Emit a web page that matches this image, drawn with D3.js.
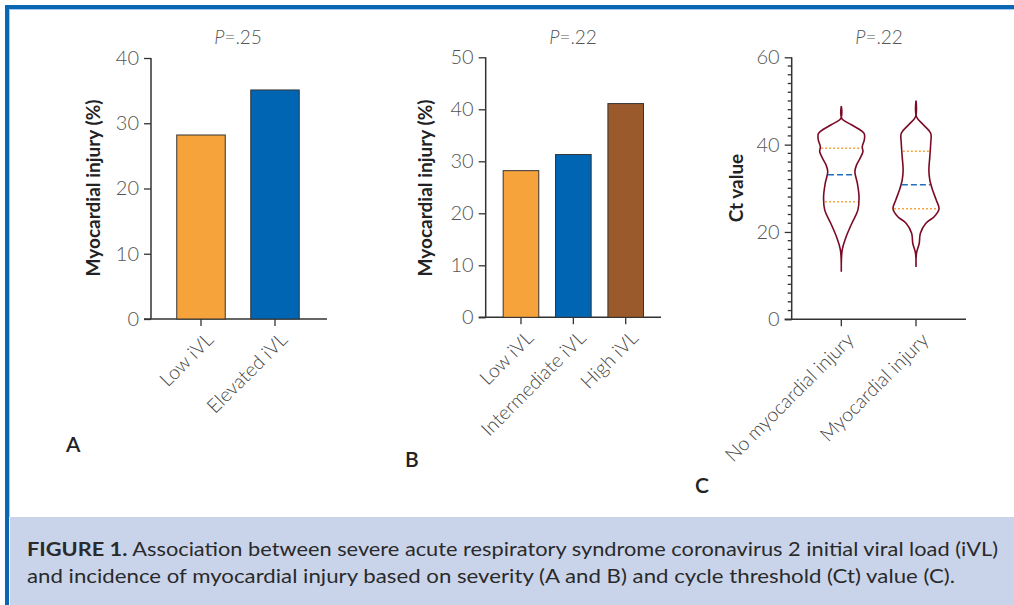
<!DOCTYPE html>
<html lang="en">
<head>
  <meta charset="UTF-8" />
  <title>Figure 1</title>
  <script src="https://d3js.org/d3.v7.min.js"></script>
  <style>
    html, body {
      margin: 0;
      padding: 0;
      background: white;
      overflow: hidden;
    }
    svg text {
      font-family: Lato, "Open Sans", sans-serif;
    }
  </style>
</head>
<body>
  <svg id="chart" width="1014" height="605"></svg>

  <script>
    // panel A
    const catsA = ["Low iVL", "Elevated iVL"];
    const valsA = [28.2, 35.1];
    const colorsA = ["#f6a33c", "#0066b3"];
    const ticksA = [0, 10, 20, 30, 40];

    // panel B
    const catsB = ["Low iVL", "Intermediate iVL", "High iVL"];
    const valsB = [28.2, 31.3, 41.1];
    const colorsB = ["#f6a33c", "#0066b3", "#9a5a2b"];
    const ticksB = [0, 10, 20, 30, 40, 50];

    // panel C - violins (Ct value, relative density)
    const catsC = ["No myocardial injury", "Myocardial injury"];
    const ticksC = [0, 20, 40, 60];
    const ctNo = [48.8, 46.0, 44.5, 42.6, 41.1, 39.5, 38.4, 36.9, 35.3, 33.8, 31.1, 28.1, 25.0, 22.0, 18.9, 15.9, 10.9];
    const densNo = [0, 0.02, 0.46, 0.99, 1.0, 0.91, 0.94, 0.82, 0.66, 0.59, 0.70, 0.77, 0.72, 0.46, 0.21, 0.04, 0];
    const ctInj = [50.1, 46.4, 44.5, 42.6, 40.3, 37.2, 34.2, 31.9, 29.6, 27.3, 25.3, 23.5, 22.0, 19.7, 17.4, 15.1, 12.0];
    const densInj = [0, 0.02, 0.33, 0.64, 0.64, 0.60, 0.56, 0.60, 0.72, 0.88, 1.0, 0.79, 0.43, 0.19, 0.14, 0.02, 0];
    const quartNo = [26.9, 33.1, 39.2];
    const quartInj = [25.3, 30.8, 38.5];

    const pLabels = [".25", ".22", ".22"];
    const panelLetters = ["A", "B", "C"];
    const captionBold = "FIGURE 1.";
    const captionLine1 = " Association between severe acute respiratory syndrome coronavirus 2 initial viral load (iVL)";
    const captionLine2 = "and incidence of myocardial injury based on severity (A and B) and cycle threshold (Ct) value (C).";

    const svg = d3.select("#chart");
    const axisColor = "#333";
    const tickColor = "#555";

    // frame and caption band
    svg.append("rect").attr("x", 10).attr("y", 517).attr("width", 1004).attr("height", 88).attr("fill", "#c9d4eb");
    svg.append("rect").attr("x", 5).attr("y", 5).attr("width", 1009).attr("height", 4).attr("fill", "#0a67b4");
    svg.append("rect").attr("x", 5).attr("y", 5).attr("width", 4).attr("height", 600).attr("fill", "#0a67b4");
    svg.append("rect").attr("x", 9).attr("y", 9).attr("width", 1005).attr("height", 1).attr("fill", "#a9c9ea");
    svg.append("rect").attr("x", 9).attr("y", 9).attr("width", 1).attr("height", 508).attr("fill", "#a9c9ea");

    function styleAxis(g) {
      g.selectAll("path.domain").remove();
      g.selectAll("line").attr("stroke", axisColor).attr("stroke-width", 1.3);
      g.selectAll("text").attr("fill", tickColor).style("font-size", "20px").style("font-weight", 300);
    }

    function drawFrame(cfg) {
      const g = svg.append("g");
      const y = cfg.y;
      const y0 = y.range()[0];

      const ya = g.append("g")
        .attr("transform", `translate(${cfg.axisX},0)`)
        .call(d3.axisLeft(y).tickValues(cfg.ticks).tickSize(7).tickSizeOuter(0).tickPadding(5));
      styleAxis(ya);

      if (cfg.minor) {
        g.append("g").selectAll("line")
          .data(d3.range(0, y.domain()[1] + 0.01, cfg.minor).filter(v => !cfg.ticks.includes(v)))
          .join("line")
          .attr("x1", cfg.axisX - 4).attr("x2", cfg.axisX)
          .attr("y1", d => y(d)).attr("y2", d => y(d))
          .attr("stroke", axisColor).attr("stroke-width", 1.3);
      }

      // axis lines
      g.append("line")
        .attr("x1", cfg.axisX).attr("x2", cfg.axisX)
        .attr("y1", y0).attr("y2", y.range()[1])
        .attr("stroke", axisColor).attr("stroke-width", 1.5);
      g.append("line")
        .attr("x1", cfg.axisX - 7).attr("x2", cfg.xEnd)
        .attr("y1", y0).attr("y2", y0)
        .attr("stroke", axisColor).attr("stroke-width", 1.5);

      // category ticks and rotated labels
      const cats = g.append("g").selectAll("g")
        .data(cfg.cats)
        .join("g")
        .attr("transform", d => `translate(${cfg.center(d)},${y0})`);
      cats.append("line").attr("y1", 0).attr("y2", 7).attr("stroke", axisColor).attr("stroke-width", 1.3);
      cats.append("text")
        .attr("transform", "translate(9,17) rotate(-45)")
        .attr("text-anchor", "end")
        .attr("dy", "0.35em")
        .attr("fill", "#444")
        .style("font-size", "19.5px")
        .style("font-weight", 300)
        .text(d => d);

      // P value
      const pt = g.append("text")
        .attr("x", cfg.pX).attr("y", 44)
        .attr("text-anchor", "middle")
        .attr("fill", tickColor)
        .style("font-size", "19px")
        .style("font-weight", 300);
      pt.append("tspan").style("font-style", "italic").text("P");
      pt.append("tspan").text("=" + cfg.p);

      // y title
      g.append("text")
        .attr("transform", `translate(${cfg.titleX},188) rotate(-90)`)
        .attr("text-anchor", "middle")
        .attr("fill", "#222")
        .style("font-size", "19px")
        .style("font-weight", 700)
        .text(cfg.title);

      // panel letter
      g.append("text")
        .attr("x", cfg.letterX).attr("y", cfg.letterY)
        .attr("fill", "#222")
        .style("font-size", "21px")
        .style("font-weight", 600)
        .text(cfg.letter);

      return g;
    }

    // ---------- A ----------
    const yA = d3.scaleLinear().domain([0, 40]).range([319, 58]);
    const xA = d3.scaleBand().domain(catsA).range([164, 312]).paddingInner(0.345).paddingOuter(0.1725);
    const gA = drawFrame({
      y: yA, ticks: ticksA, axisX: 151, xEnd: 327, cats: catsA,
      center: d => xA(d) + xA.bandwidth() / 2, pX: 238, p: pLabels[0],
      title: "Myocardial injury (%)", titleX: 100, letter: panelLetters[0], letterX: 66, letterY: 452
    });
    gA.append("g").selectAll("rect")
      .data(catsA)
      .join("rect")
      .attr("x", d => xA(d)).attr("width", xA.bandwidth())
      .attr("y", (d, i) => yA(valsA[i])).attr("height", (d, i) => yA(0) - yA(valsA[i]))
      .attr("fill", (d, i) => colorsA[i])
      .attr("stroke", "#333").attr("stroke-width", 1);

    // ---------- B ----------
    const yB = d3.scaleLinear().domain([0, 50]).range([317.3, 57.3]);
    const xB = d3.scaleBand().domain(catsB).range([494.8, 651.9]).paddingInner(0.32).paddingOuter(0.16);
    const gB = drawFrame({
      y: yB, ticks: ticksB, axisX: 485.7, xEnd: 661, cats: catsB,
      center: d => xB(d) + xB.bandwidth() / 2, pX: 573, p: pLabels[1],
      title: "Myocardial injury (%)", titleX: 432, letter: panelLetters[1], letterX: 405, letterY: 467
    });
    gB.append("g").selectAll("rect")
      .data(catsB)
      .join("rect")
      .attr("x", d => xB(d)).attr("width", xB.bandwidth())
      .attr("y", (d, i) => yB(valsB[i])).attr("height", (d, i) => yB(0) - yB(valsB[i]))
      .attr("fill", (d, i) => colorsB[i])
      .attr("stroke", "#333").attr("stroke-width", 1);

    // ---------- C ----------
    const yC = d3.scaleLinear().domain([0, 60]).range([319.3, 57.3]);
    const xC = d3.scalePoint().domain(catsC).range([841.3, 916]);
    const wC = d3.scaleLinear().domain([0, 1]).range([0, 23]);
    const gC = drawFrame({
      y: yC, ticks: ticksC, axisX: 791.7, xEnd: 966, cats: catsC, minor: 2,
      center: d => xC(d), pX: 879, p: pLabels[2],
      title: "Ct value", titleX: 743, letter: panelLetters[2], letterX: 695, letterY: 493
    });

    const violins = [
      { cat: catsC[0], ct: ctNo, dens: densNo, q: quartNo },
      { cat: catsC[1], ct: ctInj, dens: densInj, q: quartInj }
    ];

    violins.forEach(v => {
      const cx = xC(v.cat);
      const pts = v.ct.map((c, i) => ({ c, w: wC(v.dens[i]) }));
      const area = d3.area()
        .y(d => yC(d.c))
        .x0(d => cx - d.w)
        .x1(d => cx + d.w)
        .curve(d3.curveCatmullRom.alpha(0.5));
      gC.append("path")
        .datum(pts)
        .attr("d", area)
        .attr("fill", "none")
        .attr("stroke", "#7b0a26")
        .attr("stroke-width", 1.6);

      // half width at a given Ct, read from the profile
      const halfAt = c => {
        const asc = pts.slice().reverse();
        const i = d3.bisector(d => d.c).left(asc, c);
        const a = asc[i - 1], b = asc[i];
        const t = (c - a.c) / (b.c - a.c);
        return a.w + t * (b.w - a.w);
      };

      v.q.forEach((qv, k) => {
        const hw = halfAt(qv) - 1;
        gC.append("line")
          .attr("x1", cx - hw).attr("x2", cx + hw)
          .attr("y1", yC(qv)).attr("y2", yC(qv))
          .attr("stroke", k === 1 ? "#1f6fbf" : "#f5a540")
          .attr("stroke-width", 1.5)
          .attr("stroke-dasharray", k === 1 ? "6,3" : "2,2");
      });
    });

    // ---------- caption ----------
    const cap1 = svg.append("text")
      .attr("x", 27).attr("y", 556)
      .attr("fill", "#2a2a2a")
      .style("font-size", "19px")
      .attr("textLength", 971)
      .attr("lengthAdjust", "spacingAndGlyphs");
    cap1.append("tspan").style("font-weight", 700).text(captionBold);
    cap1.append("tspan").text(captionLine1);

    svg.append("text")
      .attr("x", 27).attr("y", 583)
      .attr("fill", "#2a2a2a")
      .style("font-size", "19px")
      .attr("textLength", 928)
      .attr("lengthAdjust", "spacingAndGlyphs")
      .text(captionLine2);
  </script>
</body>
</html>
